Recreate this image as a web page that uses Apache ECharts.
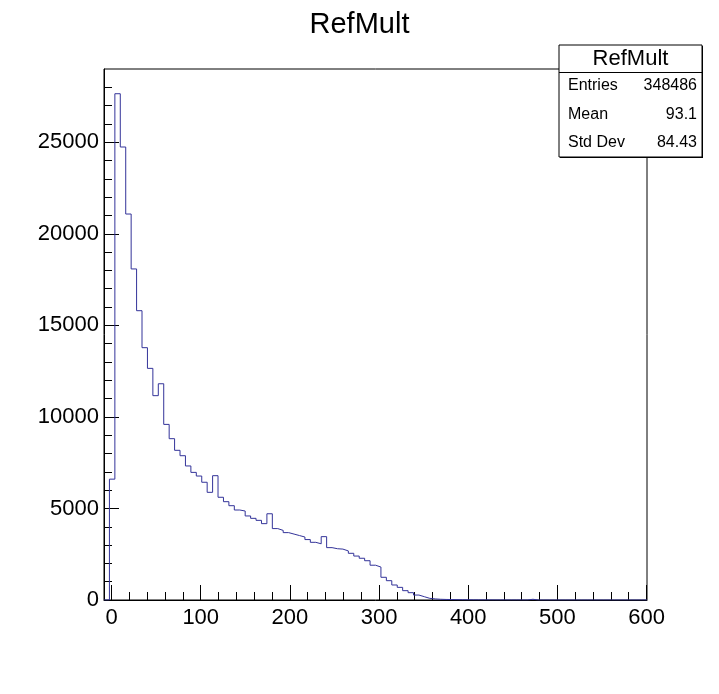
<!DOCTYPE html>
<html>
<head>
<meta charset="utf-8">
<script src="https://cdn.jsdelivr.net/npm/echarts@6/dist/echarts.min.js"></script>
<style>
  html, body { margin: 0; padding: 0; background: #fff; }
  #chart { width: 719px; height: 694px; }
</style>
</head>
<body>
<div id="chart"></div>
<script>
// ---- Data ----
const histTitle = "RefMult";
const xMin = -8.5;
const xMax = 600.5;
const nBins = 100;
const counts = [
  0, 6600, 27650, 24740, 21080, 18080, 15800, 13780, 12650, 11160,
  11810, 9590, 8810, 8175, 7880, 7320, 6970, 6770, 6430, 5880,
  6790, 5610, 5370, 5150, 4915, 4860, 4590, 4460, 4350, 4170,
  4710, 3900, 3800, 3680, 3600, 3520, 3440, 3300, 3150, 3070,
  3460, 2860, 2800, 2780, 2680, 2550, 2400, 2280, 2145, 1900,
  1800, 1240, 1055, 820, 690, 510, 400, 270, 180, 90,
  60, 40, 30, 25, 20, 15, 12, 10, 8, 7,
  6, 5, 4, 4, 3, 3, 2, 2, 40, 0,
  0, 0, 0, 0, 0, 0, 0, 0, 0, 0,
  0, 0, 0, 0, 0, 0, 0, 0, 0, 0
];
const xTickLabels = [0, 100, 200, 300, 400, 500, 600];
const xMinorTicks = [20, 40, 60, 80, 120, 140, 160, 180, 220, 240, 260, 280, 320, 340, 360, 380, 420, 440, 460, 480, 520, 540, 560, 580];
const yMax = 29000;
const yTickLabels = [0, 5000, 10000, 15000, 20000, 25000];
const yMinorTicks = [1000, 2000, 3000, 4000, 6000, 7000, 8000, 9000, 11000, 12000, 13000, 14000, 16000, 17000, 18000, 19000, 21000, 22000, 23000, 24000, 26000, 27000, 28000];
const statNames = ["Entries", "Mean", "Std Dev"];
const statValues = ["348486", "93.1", "84.43"];

// ---- Build step outline from bins ----
const binWidth = (xMax - xMin) / nBins;
const stepData = counts.map((c, i) => [xMin + i * binWidth, c]);
stepData.push([xMax, counts[counts.length - 1]]);

const FONT = "Liberation Sans, Arial, Helvetica, sans-serif";
const chart = echarts.init(document.getElementById('chart'), null, { renderer: 'canvas' });

const gridL = 104, gridT = 69, gridR = 72, gridB = 94;

const statsBox = { x: 559, y: 45, w: 143, h: 112 };
const rowY = [86, 114.5, 143];

const graphics = [
  { type: 'rect', z: 100, shape: { x: statsBox.x + 1, y: statsBox.y + 1, width: statsBox.w, height: statsBox.h }, style: { fill: '#000' } },
  { type: 'rect', z: 101, shape: { x: statsBox.x, y: statsBox.y, width: statsBox.w, height: statsBox.h }, style: { fill: '#fff', stroke: '#000', lineWidth: 1 } },
  { type: 'line', z: 102, shape: { x1: statsBox.x, y1: 72.5, x2: statsBox.x + statsBox.w, y2: 72.5 }, style: { stroke: '#000', lineWidth: 1 } },
  { type: 'text', z: 103, x: statsBox.x + statsBox.w / 2, y: 59, style: { text: histTitle, font: '22px ' + FONT, fill: '#000', align: 'center', verticalAlign: 'middle' } }
];
statNames.forEach((n, i) => {
  graphics.push({ type: 'text', z: 103, x: 568, y: rowY[i], style: { text: n, font: '16px ' + FONT, fill: '#000', align: 'left', verticalAlign: 'middle' } });
  graphics.push({ type: 'text', z: 103, x: 697, y: rowY[i], style: { text: statValues[i], font: '16px ' + FONT, fill: '#000', align: 'right', verticalAlign: 'middle' } });
});

const plain = v => String(v);

chart.setOption({
  animation: false,
  backgroundColor: '#fff',
  title: {
    text: histTitle, left: 'center', top: 5,
    textStyle: { fontFamily: FONT, fontSize: 29, fontWeight: 'normal', color: '#000' }
  },
  grid: { left: gridL, top: gridT, right: gridR, bottom: gridB, show: true, borderColor: '#000', borderWidth: 1, backgroundColor: 'transparent' },
  xAxis: [
    {
      type: 'value', min: xMin, max: xMax,
      axisLine: { show: true, onZero: false, lineStyle: { color: '#000', width: 1 } },
      axisTick: { show: true, inside: true, length: 15, customValues: xTickLabels, lineStyle: { color: '#000' } },
      axisLabel: { show: true, customValues: xTickLabels, formatter: plain, fontFamily: FONT, fontSize: 22, color: '#000', margin: 7 },
      splitLine: { show: false }
    },
    {
      type: 'value', min: xMin, max: xMax, position: 'bottom',
      axisLine: { show: false, onZero: false },
      axisTick: { show: true, inside: true, length: 8, customValues: xMinorTicks, lineStyle: { color: '#000' } },
      axisLabel: { show: false },
      splitLine: { show: false }
    }
  ],
  yAxis: [
    {
      type: 'value', min: 0, max: yMax,
      axisLine: { show: true, onZero: false, lineStyle: { color: '#000', width: 1 } },
      axisTick: { show: true, inside: true, length: 15, customValues: yTickLabels, lineStyle: { color: '#000' } },
      axisLabel: { show: true, customValues: yTickLabels, formatter: plain, fontFamily: FONT, fontSize: 22, color: '#000', margin: 5 },
      splitLine: { show: false }
    },
    {
      type: 'value', min: 0, max: yMax, position: 'left',
      axisLine: { show: false, onZero: false },
      axisTick: { show: true, inside: true, length: 8, customValues: yMinorTicks, lineStyle: { color: '#000' } },
      axisLabel: { show: false },
      splitLine: { show: false }
    }
  ],
  series: [{
    type: 'line',
    xAxisIndex: 0, yAxisIndex: 0,
    data: stepData,
    step: 'end',
    symbol: 'none',
    lineStyle: { color: '#333399', width: 1 },
    z: 5
  }],
  graphic: graphics
});
</script>
</body>
</html>
